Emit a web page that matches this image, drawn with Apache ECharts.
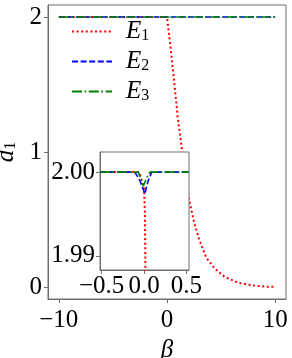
<!DOCTYPE html>
<html><head><meta charset="utf-8">
<script src="https://cdn.jsdelivr.net/npm/echarts@6/dist/echarts.min.js"></script>
<style>html,body{margin:0;padding:0;background:#fff}#c{width:292px;height:358px}</style>
</head><body><div id="c"></div>
<script>
// main panel data
const mainBeta1 = [-10, -5, 0, 0.06, 0.28, 0.68, 0.99, 1.36, 2.06, 2.53, 2.99, 3.61, 4.38, 5.31, 6.55, 7.78, 9.0, 10];
const mainE1    = [2, 2, 2, 2.0, 1.81, 1.51, 1.26, 1.03, 0.64, 0.47, 0.35, 0.22, 0.14, 0.076, 0.032, 0.013, 0.003, 0.001];
const mainBeta23 = [-10, 0, 10];
const mainE2 = [2, 2, 2];
const mainE3 = [2, 2, 2];
// inset data
const insBeta1 = [-0.52, -0.06, -0.04, -0.02, 0.0, 0.01, 0.015, 0.02, 0.03];
const insE1    = [2.0, 2.0, 1.9995, 1.9988, 1.998, 1.995, 1.99, 1.98, 1.97];
const insBeta2 = [-0.52, -0.11, -0.05, -0.02, 0.01, 0.03, 0.05, 0.09, 0.53];
const insE2    = [2.0, 2.0, 1.999, 1.9982, 1.9974, 1.9983, 1.999, 2.0, 2.0];
const insBeta3 = [-0.52, -0.07, -0.03, -0.01, 0.0, 0.03, 0.07, 0.53];
const insE3    = [2.0, 2.0, 1.999, 1.9983, 1.9985, 1.9993, 2.0, 2.0];
const mainXTicks = [-10, 0, 10];
const mainYTicks = [0, 1, 2];
const insXTicks = [-0.5, 0, 0.5];
const insYTicks = [1.99, 2.0];
const names = ['E1', 'E2', 'E3'];

const zip = (a, b) => a.map((v, i) => [v, b[i]]);
const FONT = '"Liberation Serif", "DejaVu Serif", serif';
const FS = 25;
const frame = '#6e6e6e';
const minus = s => String(s).replace('-', '\u2212');
const styles = {
  E1: {color: '#ff0000', type: [2, 2.6], width: 2},
  E2: {color: '#0000ff', type: [6, 2.6], width: 1.6},
  E3: {color: '#008000', type: [10, 2.6, 1.6, 2.6], width: 1.6}
};
function axisCommon(ticks, fmt, margin) {
  return {
    axisLine: {show: true, onZero: false, lineStyle: {color: frame, width: 1}},
    axisTick: {show: true, length: 4, inside: false, customValues: ticks, lineStyle: {color: frame}},
    axisLabel: {customValues: ticks, formatter: fmt, color: '#000', fontFamily: FONT, fontSize: FS, margin: margin, hideOverlap: false},
    splitLine: {show: false}
  };
}
function ser(name, x, y, xi, yi, z) {
  const s = styles[name];
  return {
    name, type: 'line', xAxisIndex: xi, yAxisIndex: yi, data: zip(x, y),
    symbol: 'none', showSymbol: false, clip: true, zlevel: z,
    lineStyle: {color: s.color, type: s.type, width: s.width},
    itemStyle: {color: s.color}
  };
}
const chart = echarts.init(document.getElementById('c'), null, {renderer: 'canvas'});
chart.setOption({
  animation: false,
  backgroundColor: '#fff',
  grid: [
    {left: 48, top: 5, width: 238, height: 294, show: true, borderColor: frame, borderWidth: 1,
     backgroundColor: 'transparent', outerBoundsMode: 'none', containLabel: false},
    {left: 100, top: 152, width: 89, height: 118, show: true, borderColor: frame, borderWidth: 1,
     backgroundColor: '#fff', zlevel: 1, outerBoundsMode: 'none', containLabel: false}
  ],
  xAxis: [
    Object.assign({type: 'value', gridIndex: 0, min: -11, max: 11,
      name: 'β', nameLocation: 'middle', nameGap: 25,
      nameTextStyle: {fontFamily: FONT, fontStyle: 'italic', fontSize: FS, color: '#000'}},
      axisCommon(mainXTicks, v => minus(v), 9)),
    Object.assign({type: 'value', gridIndex: 1, min: -0.52, max: 0.53, zlevel: 1},
      axisCommon(insXTicks, v => minus(v.toFixed(1)), 4))
  ],
  yAxis: [
    Object.assign({type: 'value', gridIndex: 0, min: -0.089, max: 2.089,
      name: '{d|d}{s|1}', nameLocation: 'middle', nameGap: 24, nameRotate: 90,
      nameTextStyle: {rich: {
        d: {fontFamily: FONT, fontStyle: 'italic', fontSize: FS, color: '#000'},
        s: {fontFamily: FONT, fontSize: 16, color: '#000', padding: [9, 0, 0, 0]}
      }}},
      axisCommon(mainYTicks, v => String(v), 6)),
    Object.assign({type: 'value', gridIndex: 1, min: 1.9883, max: 2.0024, zlevel: 1},
      axisCommon(insYTicks, v => v.toFixed(2), 5))
  ],
  legend: {
    orient: 'vertical', left: 66, top: 14, itemWidth: 40, itemHeight: 14, itemGap: 5,
    data: names,
    itemStyle: {opacity: 0},
    formatter: n => '{e|E}{s|' + n.slice(1) + '}',
    textStyle: {padding: [0, 0, 0, 9], rich: {
      e: {fontFamily: FONT, fontStyle: 'italic', fontSize: FS, color: '#000'},
      s: {fontFamily: FONT, fontSize: 16, color: '#000', padding: [9, 0, 0, 0]}
    }}
  },
  series: [
    ser('E1', mainBeta1, mainE1, 0, 0, 0),
    ser('E2', mainBeta23, mainE2, 0, 0, 0),
    ser('E3', mainBeta23, mainE3, 0, 0, 0),
    ser('E1', insBeta1, insE1, 1, 1, 1),
    ser('E2', insBeta2, insE2, 1, 1, 1),
    ser('E3', insBeta3, insE3, 1, 1, 1)
  ]
});
</script></body></html>
